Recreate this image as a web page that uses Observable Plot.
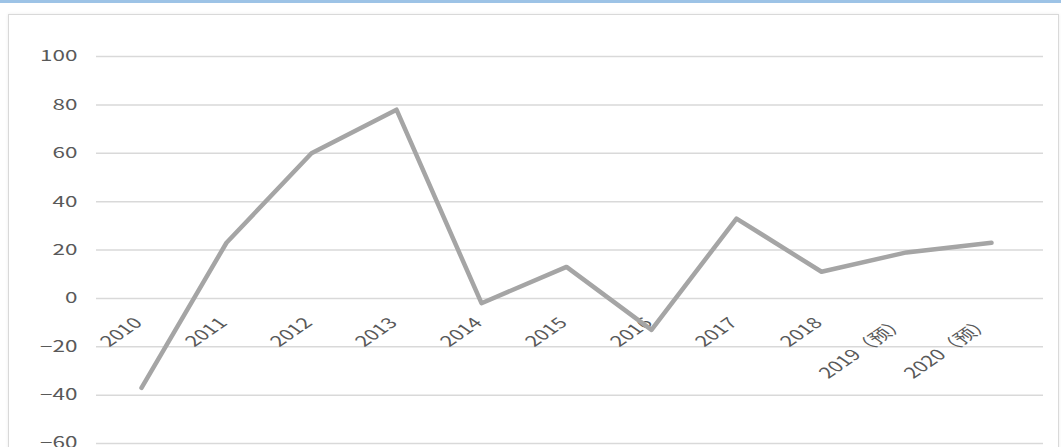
<!DOCTYPE html>
<html><head><meta charset="utf-8">
<script src="https://cdn.jsdelivr.net/npm/d3@7"></script>
<script src="https://cdn.jsdelivr.net/npm/@observablehq/plot@0.6"></script>
<style>
html,body{margin:0;padding:0;background:#fff;overflow:hidden;width:1061px;height:447px;}
#band{position:absolute;left:0;top:0;width:1061px;height:3px;background:#9dc3e6;}
#box{position:absolute;left:8px;top:14px;width:1049px;height:470px;border:1.5px solid #d9d9d9;box-shadow:0 0 3px rgba(0,0,0,0.08);}
#chart{position:absolute;left:0;top:0;}
</style></head><body>
<div id="band"></div><div id="box"></div><div id="chart"></div>
<script>
const years = ["2010","2011","2012","2013","2014","2015","2016","2017","2018","2019（预）","2020（预）"];
const values = [-37, 23, 60, 78, -2, 13, -13, 33, 11, 19, 23];
const yTicks = [-60, -40, -20, 0, 20, 40, 60, 80, 100];
const data = years.map((year, i) => ({year, value: values[i]}));

const chart = Plot.plot({
  width: 1061, height: 447,
  marginLeft: 96, marginRight: 18, marginTop: 56, marginBottom: 4,
  style: {background: "transparent", fontFamily: "'Noto Sans CJK SC', 'Noto Sans', sans-serif", fontSize: "15.5px", color: "#595959"},
  x: {type: "point", domain: years, range: [136, 995], padding: 0},
  y: {domain: [-60, 100], ticks: yTicks},
  marks: [
    Plot.gridY(yTicks, {stroke: "#d9d9d9", strokeOpacity: 1, strokeWidth: 1.5}),
    Plot.axisY(yTicks, {tickSize: 0, tickPadding: 19, fill: "#595959", fontSize: 15.5, label: null}),
    Plot.axisX({anchor: "bottom", tickSize: 0, tickPadding: 0, tickRotate: -45, dy: -123, dx: -3, fill: "#595959", fontSize: 15, textAnchor: "end", label: null}),
    Plot.line(data, {x: "year", y: "value", stroke: "#a5a5a5", strokeWidth: 4.5, strokeLinejoin: "round", strokeLinecap: "round"})
  ]
});
document.getElementById("chart").appendChild(chart);

function stretch(sel) {
  d3.select(chart).selectAll(sel).each(function() {
    let t = this.getAttribute("transform");
    if (!t) {
      const x = this.getAttribute("x") || 0, y = this.getAttribute("y") || 0;
      this.removeAttribute("x"); this.removeAttribute("y");
      t = `translate(${x},${y})`;
    }
    if (t.includes("rotate")) t = t.replace("rotate", "scale(1.45,1) rotate");
    else t = t + " scale(1.45,1)";
    this.setAttribute("transform", t);
  });
}
stretch('g[aria-label="y-axis tick label"] text');
stretch('g[aria-label="x-axis tick label"] text');
</script>
</body></html>
